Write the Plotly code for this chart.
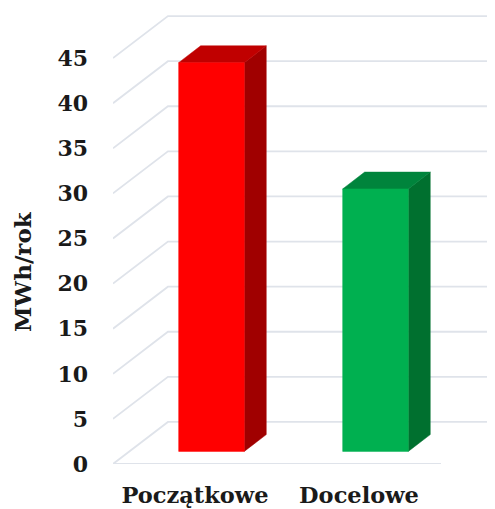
import plotly.graph_objects as go

categories = ["Początkowe", "Docelowe"]
values = [43.1, 29.1]
front_colors = ["#ff0000", "#00b050"]
top_colors = ["#c00000", "#00843c"]
side_colors = ["#a00000", "#00702f"]
y_ticks = [0, 5, 10, 15, 20, 25, 30, 35, 40, 45]
y_title = "MWh/rok"

GRID = "#dfe3ea"
FONT = "DejaVu Serif"
DX, DY = 0.335, 4.66      # wall depth in axis units
BAR_W = 0.40
BAR_D0, BAR_D1 = 0.30, 0.70  # bar position within the depth

fig = go.Figure()

for v in y_ticks:
    xs = [-0.5, -0.5 + DX, 1.5 + DX]
    ys = [v, v + DY, v + DY]
    fig.add_trace(go.Scatter(x=xs, y=ys, mode="lines", hoverinfo="skip",
                             line=dict(color=GRID, width=1.8)))
fig.add_trace(go.Scatter(x=[-0.5, 1.5], y=[0, 0], mode="lines", hoverinfo="skip",
                         line=dict(color=GRID, width=1.8)))

for i, (cat, v) in enumerate(zip(categories, values)):
    x0 = i - BAR_W / 2 + DX * BAR_D0
    x1 = x0 + BAR_W
    b0 = DY * BAR_D0
    d = BAR_D1 - BAR_D0
    ddx, ddy = DX * d, DY * d
    top = b0 + v
    fig.add_trace(go.Scatter(
        x=[x1, x1 + ddx, x1 + ddx, x1, x1], y=[b0, b0 + ddy, top + ddy, top, b0],
        mode="lines", fill="toself", fillcolor=side_colors[i],
        line=dict(color=side_colors[i], width=0.5), hoverinfo="skip"))
    fig.add_trace(go.Scatter(
        x=[x0, x1, x1 + ddx, x0 + ddx, x0], y=[top, top, top + ddy, top + ddy, top],
        mode="lines", fill="toself", fillcolor=top_colors[i],
        line=dict(color=top_colors[i], width=0.5), hoverinfo="skip"))
    fig.add_trace(go.Scatter(
        x=[x0, x1, x1, x0, x0], y=[b0, b0, top, top, b0],
        mode="lines", fill="toself", fillcolor=front_colors[i],
        line=dict(color=front_colors[i], width=0.5), name=cat))

fig.add_annotation(text=y_title, xref="paper", yref="paper", x=-0.238, y=0.421,
                   textangle=-90, showarrow=False, xanchor="center", yanchor="middle",
                   font=dict(family=FONT, size=23, weight="bold", color="#1a1a1a"))

fig.update_layout(
    width=487, height=501, showlegend=False,
    paper_bgcolor="white", plot_bgcolor="white",
    margin=dict(l=105, r=0, t=0, b=45),
    font=dict(family=FONT, color="#1a1a1a"),
    xaxis=dict(range=[-0.5, 1.5 + 54 / 164], tickvals=[0, 1], ticktext=categories,
               showgrid=False, zeroline=False, showline=False, ticks="", automargin=False,
               ticklabelstandoff=15,
               tickfont=dict(family=FONT, size=22.5, weight="bold", color="#1a1a1a")),
    yaxis=dict(range=[0, 456 / 9.02], tickvals=y_ticks, showgrid=False, zeroline=False,
               showline=False, ticks="", ticklabelstandoff=24, automargin=False,
               tickfont=dict(family=FONT, size=22, weight="bold", color="#1a1a1a")),
)
fig.write_html("out.html")
